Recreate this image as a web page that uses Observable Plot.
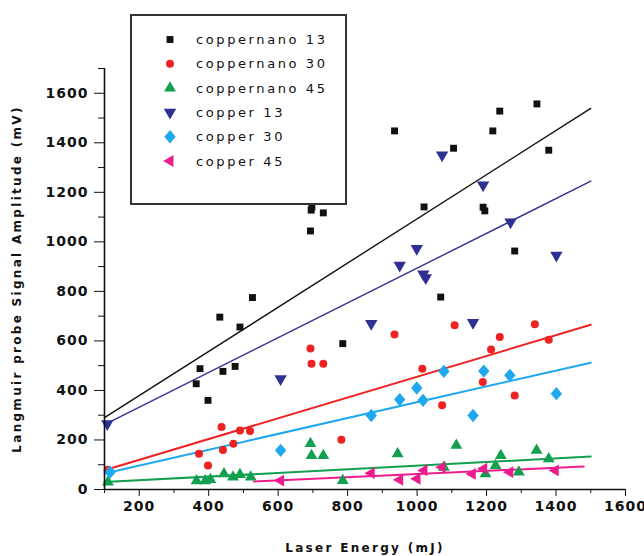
<!DOCTYPE html>
<html><head><meta charset="utf-8">
<script src="https://cdn.jsdelivr.net/npm/d3@7"></script>
<script src="https://cdn.jsdelivr.net/npm/@observablehq/plot@0.6"></script>
<style>
body{margin:0;background:#fff;}
#wrap{position:relative;width:644px;height:556px;overflow:hidden;}
#wrap svg.plot{position:absolute;left:0;top:0;}
#title{position:absolute;left:360px;top:14px;font-family:"DejaVu Serif";font-weight:bold;font-size:20px;color:#e8141c;white-space:nowrap;}
#title sub{font-size:11px;}
#legend{position:absolute;left:0;top:0;}
</style></head>
<body><div id="wrap"><div id="title">P<sub>s</sub> polarization-500ps</div></div>
<script>
// ---- data ----
const cnano13X = [364, 375, 398, 432, 441, 476, 490, 526, 693, 695, 697, 730, 786, 935, 1020, 1068, 1105, 1190, 1195, 1218, 1238, 1281, 1345, 1379];
const cnano13Y = [427, 488, 360, 696, 477, 497, 656, 775, 1044, 1128, 1140, 1117, 589, 1448, 1141, 777, 1378, 1140, 1125, 1448, 1528, 963, 1557, 1370];
const cnano30X = [110, 372, 398, 437, 441, 471, 490, 519, 693, 696, 730, 782, 935, 1015, 1072, 1108, 1189, 1213, 1238, 1281, 1339, 1379];
const cnano30Y = [80, 144, 97, 252, 160, 185, 238, 236, 569, 508, 508, 201, 626, 488, 340, 663, 434, 565, 616, 380, 667, 605];
const cnano45X = [110, 365, 390, 405, 444, 470, 490, 521, 693, 696, 730, 786, 944, 1077, 1113, 1197, 1226, 1241, 1293, 1344, 1379];
const cnano45Y = [30, 35, 35, 40, 63, 50, 60, 50, 185, 137, 137, 36, 144, 90, 178, 63, 97, 137, 70, 158, 124];
const cu13X = [108, 607, 868, 950, 999, 1018, 1025, 1072, 1161, 1190, 1269, 1401];
const cu13Y = [265, 447, 670, 905, 973, 870, 855, 1350, 674, 1229, 1080, 946];
const cu30X = [116, 607, 868, 950, 999, 1017, 1077, 1161, 1192, 1267, 1401];
const cu30Y = [70, 158, 299, 363, 410, 360, 477, 299, 478, 461, 387];
const cu45X = [607, 868, 950, 1000, 1020, 1072, 1159, 1192, 1267, 1398];
const cu45Y = [36, 66, 39, 43, 77, 90, 63, 84, 70, 77];

// fitted lines (end points)
const fitX = [100, 1500];
const cnano13Fit = [290, 1539];
const cnano30Fit = [78, 665];
const cnano45Fit = [30, 133];
const cu13Fit = [262, 1245];
const cu30Fit = [65, 512];
const cu45FitX = [530, 1480];
const cu45Fit = [32, 93];

const seriesNames = ["coppernano 13", "coppernano 30", "coppernano 45", "copper 13", "copper 30", "copper 45"];
const xMajor = [200, 400, 600, 800, 1000, 1200, 1400, 1600];
const xMinor = [100, 300, 500, 700, 900, 1100, 1300, 1500];
const yMajor = [0, 200, 400, 600, 800, 1000, 1200, 1400, 1600];
const yMinor = [100, 300, 500, 700, 900, 1100, 1300, 1500, 1700];

// ---- symbols ----
const triDown = {draw(ctx, size){const s=Math.sqrt(4*size/Math.sqrt(3)), R=s/Math.sqrt(3);
  ctx.moveTo(0,R); ctx.lineTo(-s/2,-R/2); ctx.lineTo(s/2,-R/2); ctx.closePath();}};
const triLeft = {draw(ctx, size){const s=Math.sqrt(4*size/Math.sqrt(3)), R=s/Math.sqrt(3);
  ctx.moveTo(-R,0); ctx.lineTo(R/2,-s/2); ctx.lineTo(R/2,s/2); ctx.closePath();}};
const triUp = {draw(ctx, size){const s=Math.sqrt(4*size/Math.sqrt(3)), R=s/Math.sqrt(3);
  ctx.moveTo(0,-R); ctx.lineTo(s/2,R/2); ctx.lineTo(-s/2,R/2); ctx.closePath();}};
const diamond = {draw(ctx, size){const h=Math.sqrt(size)*0.82, w=h*0.85;
  ctx.moveTo(0,-h); ctx.lineTo(w,0); ctx.lineTo(0,h); ctx.lineTo(-w,0); ctx.closePath();}};

const series = [
  {name: seriesNames[0], xs: cnano13X, ys: cnano13Y, fitX: fitX, fit: cnano13Fit, color: "#111111", symbol: d3.symbolSquare, r: 3.9, lw: 1.4},
  {name: seriesNames[1], xs: cnano30X, ys: cnano30Y, fitX: fitX, fit: cnano30Fit, color: "#ee2222", symbol: d3.symbolCircle, r: 4.0, lw: 2},
  {name: seriesNames[2], xs: cnano45X, ys: cnano45Y, fitX: fitX, fit: cnano45Fit, color: "#12a050", symbol: triUp, r: 4.4, lw: 2},
  {name: seriesNames[3], xs: cu13X, ys: cu13Y, fitX: fitX, fit: cu13Fit, color: "#2e3192", symbol: triDown, r: 4.6, lw: 1.4},
  {name: seriesNames[4], xs: cu30X, ys: cu30Y, fitX: fitX, fit: cu30Fit, color: "#1fa8ee", symbol: diamond, r: 4.6, lw: 2},
  {name: seriesNames[5], xs: cu45X, ys: cu45Y, fitX: cu45FitX, fit: cu45Fit, color: "#ec1c8c", symbol: triLeft, r: 4.4, lw: 2}
];

const marks = [];
for (const s of series) {
  const pts = s.fitX.map((x, i) => ({x, y: s.fit[i]}));
  marks.push(Plot.line(pts, {x: "x", y: "y", stroke: s.color, strokeWidth: s.lw}));
}
for (const s of series) {
  const pts = s.xs.map((x, i) => ({x, y: s.ys[i]}));
  marks.push(Plot.dot(pts, {x: "x", y: "y", fill: s.color, symbol: s.symbol, r: s.r, stroke: "none"}));
}
const fmt = d3.format("d");
marks.push(
  Plot.axisX(xMajor, {tickSize: 7, tickPadding: 5, tickFormat: fmt, fontWeight: "bold", label: "Laser Energy (mJ)", labelAnchor: "center", labelOffset: 62, labelArrow: "none"}),
  Plot.axisX(xMinor, {tickSize: 4, text: null, label: null}),
  Plot.axisY(yMajor, {tickSize: 10, tickPadding: 6, tickFormat: fmt, fontWeight: "bold", label: "Langmuir probe Signal Amplitude (mV)", labelAnchor: "center", labelOffset: 92, labelArrow: "none"}),
  Plot.axisY(yMinor, {tickSize: 6, text: null, label: null}),
  Plot.ruleY([0], {strokeWidth: 1.6}),
  Plot.ruleX([100], {strokeWidth: 1.6})
);

const chart = Plot.plot({
  width: 644, height: 556,
  marginLeft: 104, marginRight: 19, marginTop: 68, marginBottom: 67,
  x: {domain: [100, 1600]},
  y: {domain: [0, 1700]},
  style: {fontFamily: "DejaVu Sans", fontSize: "14px", color: "#111", background: "#fff", letterSpacing: "1px"},
  marks
});
chart.classList.add("plot");
document.getElementById("wrap").appendChild(chart);
d3.select(chart).selectAll('g[aria-label="x-axis label"] text, g[aria-label="y-axis label"] text')
  .style("font-size", "12px").style("letter-spacing", "2.3px").style("font-weight", "600");

// ---- legend overlay ----
const lg = d3.select("#wrap").append("svg").attr("id", "legend").attr("width", 644).attr("height", 556);
lg.append("rect").attr("x", 131).attr("y", 15).attr("width", 215).attr("height", 189)
  .attr("fill", "#fff").attr("stroke", "#333").attr("stroke-width", 2);
series.forEach((s, i) => {
  const cy = 39.5 + i * 24.3;
  lg.append("path").attr("transform", `translate(170,${cy})`)
    .attr("d", d3.symbol().type(s.symbol).size(Math.PI * s.r * s.r)()).attr("fill", s.color);
  lg.append("text").attr("x", 196).attr("y", cy).attr("dy", "0.36em")
    .attr("font-family", "DejaVu Sans").attr("font-size", 13).attr("letter-spacing", "2.6px")
    .attr("fill", "#111").text(s.name);
});
</script></body></html>
